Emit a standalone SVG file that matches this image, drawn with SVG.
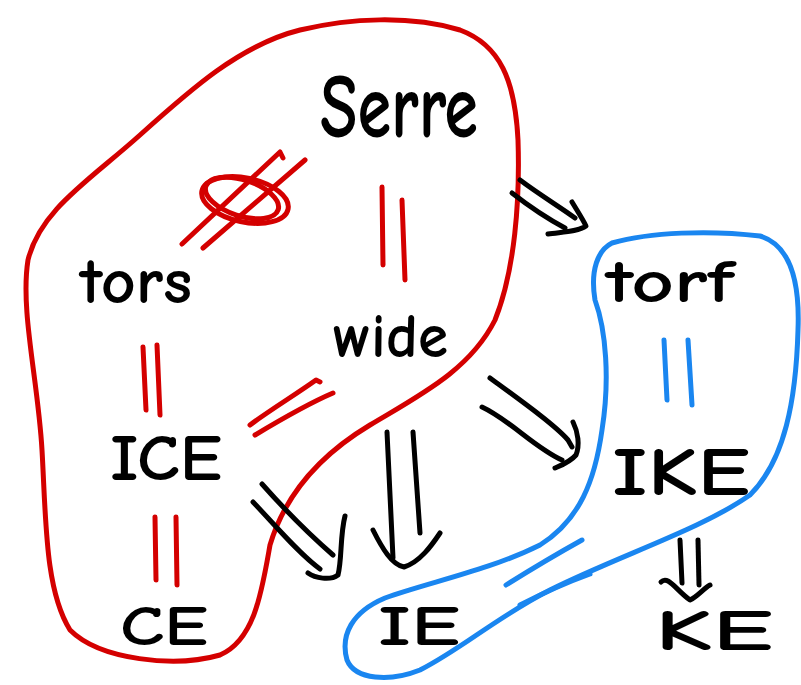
<svg xmlns="http://www.w3.org/2000/svg" width="801" height="685" viewBox="0 0 801 685">
  <style>
    .lbl { font-family: "Comic Neue", "Liberation Sans", "DejaVu Sans", sans-serif; font-weight: 700; fill: #000; }
    .red { fill: none; stroke: #d40000; stroke-width: 5; stroke-linecap: round; stroke-linejoin: round; }
    .blue { fill: none; stroke: #1a86f0; stroke-width: 5; stroke-linecap: round; stroke-linejoin: round; }
    .blk { fill: none; stroke: #000; stroke-width: 5; stroke-linecap: round; stroke-linejoin: round; }
  </style>
  <rect width="801" height="685" fill="#fff"/>

  <!-- group outlines -->
  <g id="red-region">
    <path class="red" d="M 300 30 C 240 45 190 90 140 135 C 90 180 40 210 28 260 C 20 310 38 380 42 450 C 46 520 45 590 70 630 C 100 660 175 668 220 655 C 255 640 262 590 270 545 C 285 495 320 455 370 425 C 420 395 470 370 495 320 C 515 270 520 200 518 140 C 515 80 500 45 460 30 C 410 15 350 18 300 30 Z"/>
  </g>
  <g id="blue-region">
    <path class="blue" d="M 612 243 C 650 232 710 230 760 236 C 790 245 800 280 798 330 C 796 400 785 460 750 495 C 700 530 620 555 550 590 C 500 615 460 650 420 670 C 390 682 355 680 347 660 C 340 635 352 612 385 598 C 430 582 490 570 540 545 C 580 520 595 480 602 430 C 610 380 606 330 595 300 C 590 270 598 250 612 243 Z"/>
  </g>

  <!-- nodes -->
  <g id="serre"><text class="lbl" x="320" y="137" font-size="90" textLength="158" lengthAdjust="spacingAndGlyphs">Serre</text></g>
  <g id="tors"><text class="lbl" x="80" y="303" font-size="64" textLength="112" lengthAdjust="spacingAndGlyphs">tors</text></g>
  <g id="wide"><text class="lbl" x="333" y="357" font-size="62" textLength="115" lengthAdjust="spacingAndGlyphs">wide</text></g>
  <g id="ice"><text class="lbl" x="110" y="480" font-size="64" textLength="112" lengthAdjust="spacingAndGlyphs">ICE</text></g>
  <g id="ce"><text class="lbl" x="120" y="645" font-size="56" textLength="88" lengthAdjust="spacingAndGlyphs">CE</text></g>
  <g id="ie"><text class="lbl" x="378" y="645" font-size="56" textLength="82" lengthAdjust="spacingAndGlyphs">IE</text></g>
  <g id="torf"><text class="lbl" x="606" y="302" font-size="60" textLength="128" lengthAdjust="spacingAndGlyphs">torf</text></g>
  <g id="ike"><text class="lbl" x="612" y="495" font-size="68" textLength="138" lengthAdjust="spacingAndGlyphs">IKE</text></g>
  <g id="ke"><text class="lbl" x="655" y="650" font-size="58" textLength="118" lengthAdjust="spacingAndGlyphs">KE</text></g>

  <!-- connectors -->
  <g id="connectors">
    <!-- Serre ≠ tors (struck-through equality) -->
    <path class="red" d="M 182 244 L 280 152 L 283 158"/>
    <path class="red" d="M 203 248 L 305 160"/>
    <ellipse class="red" cx="245" cy="200" rx="44" ry="22" transform="rotate(12 245 200)"/>
    <ellipse class="red" cx="242" cy="198" rx="38" ry="18" transform="rotate(18 242 198)"/>

    <!-- Serre = wide -->
    <path class="red" d="M 382 187 L 383 265"/>
    <path class="red" d="M 402 200 L 405 280"/>

    <!-- tors = ICE -->
    <path class="red" d="M 143 347 L 146 410"/>
    <path class="red" d="M 157 345 L 160 415"/>

    <!-- wide = ICE -->
    <path class="red" d="M 250 425 C 270 410 295 395 316 380 L 320 382"/>
    <path class="red" d="M 255 435 C 280 420 305 405 333 393"/>

    <!-- ICE = CE -->
    <path class="red" d="M 155 517 L 156 580"/>
    <path class="red" d="M 176 517 L 177 585"/>

    <!-- torf = IKE -->
    <path class="blue" d="M 664 340 L 667 400"/>
    <path class="blue" d="M 688 340 L 692 405"/>

    <!-- IE = IKE -->
    <path class="blue" d="M 506 585 C 530 570 555 555 582 540"/>
    <path class="blue" d="M 520 605 C 545 592 568 582 590 574"/>

    <!-- Serre ⇒ torf -->
    <path class="blk" d="M 520 180 C 540 195 560 207 575 218"/>
    <path class="blk" d="M 512 193 C 530 207 550 220 565 228"/>
    <path class="blk" d="M 572 202 C 578 212 582 218 586 226 C 578 232 560 232 548 234"/>

    <!-- wide ⇒ IKE -->
    <path class="blk" d="M 490 378 C 520 400 555 425 568 440 L 572 447"/>
    <path class="blk" d="M 482 407 C 510 420 535 448 562 460"/>
    <path class="blk" d="M 573 422 C 578 432 580 445 576 455 C 570 462 562 465 555 468"/>

    <!-- wide ⇒ IE -->
    <path class="blk" d="M 387 432 L 393 558"/>
    <path class="blk" d="M 413 432 L 420 533"/>
    <path class="blk" d="M 373 530 C 382 548 392 565 404 567 C 420 562 432 545 440 533"/>

    <!-- ICE ⇒ IE -->
    <path class="blk" d="M 262 484 C 285 510 310 535 333 555"/>
    <path class="blk" d="M 253 502 C 275 525 300 555 320 569"/>
    <path class="blk" d="M 345 516 C 340 535 342 560 338 575 C 330 581 315 578 308 573"/>

    <!-- IKE ⇒ KE -->
    <path class="blk" d="M 680 540 L 682 583"/>
    <path class="blk" d="M 698 540 L 699 585"/>
    <path class="blk" d="M 661 582 C 668 575 676 590 690 600 C 698 596 704 588 710 585"/>
  </g>
</svg>
